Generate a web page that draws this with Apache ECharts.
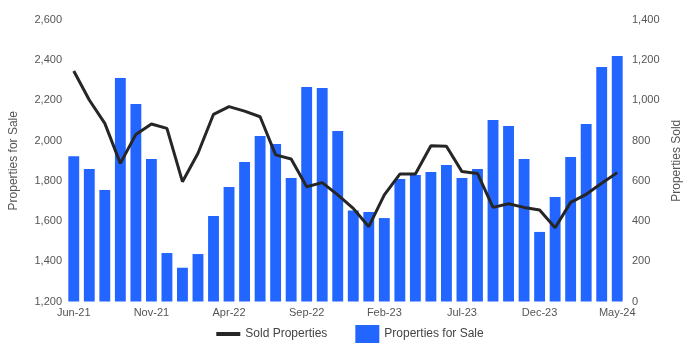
<!DOCTYPE html>
<html>
<head>
<meta charset="utf-8">
<script src="https://cdn.jsdelivr.net/npm/echarts@6/dist/echarts.min.js"></script>
<style>
  html, body { margin: 0; padding: 0; background: #fff; }
  #chart { width: 700px; height: 350px; }
</style>
</head>
<body>
<div id="chart"></div>
<script>
// Monthly listings vs. sales, Jun-21 to May-24
const months = [
  'Jun-21','Jul-21','Aug-21','Sep-21','Oct-21','Nov-21','Dec-21','Jan-22','Feb-22','Mar-22','Apr-22','May-22',
  'Jun-22','Jul-22','Aug-22','Sep-22','Oct-22','Nov-22','Dec-22','Jan-23','Feb-23','Mar-23','Apr-23','May-23',
  'Jun-23','Jul-23','Aug-23','Sep-23','Oct-23','Nov-23','Dec-23','Jan-24','Feb-24','Mar-24','Apr-24','May-24'
];

const propertiesForSale = [
  1922, 1859, 1754, 2311, 2182, 1909, 1441, 1368, 1436, 1625, 1769, 1894,
  2023, 1983, 1814, 2267, 2262, 2048, 1652, 1645, 1615, 1809, 1829, 1844,
  1879, 1814, 1859, 2103, 2073, 1909, 1546, 1720, 1919, 2083, 2366, 2421
];

const soldProperties = [
  1146, 1002, 886, 687, 831, 883, 861, 596, 737, 931, 969, 947,
  919, 729, 709, 571, 591, 530, 463, 372, 530, 634, 634, 775,
  772, 646, 637, 468, 486, 468, 455, 367, 493, 533, 588, 641
];

const labelStyle = { color: '#555', fontSize: 11, fontFamily: 'Liberation Sans, Arial, sans-serif' };
const nameStyle = { color: '#555', fontSize: 12, fontFamily: 'Liberation Sans, Arial, sans-serif' };

const chart = echarts.init(document.getElementById('chart'), null, { renderer: 'canvas' });
chart.setOption({
  animation: false,
  grid: { left: 58, right: 75, top: 20, bottom: 48.5 },
  legend: {
    bottom: 2,
    left: 'center',
    itemGap: 28,
    itemWidth: 24,
    itemHeight: 18,
    textStyle: { color: '#444', fontSize: 12, fontFamily: 'Liberation Sans, Arial, sans-serif' },
    data: [
      { name: 'Sold Properties', icon: 'path://M0,0H24V4H0Z' },
      { name: 'Properties for Sale', icon: 'rect' }
    ]
  },
  xAxis: {
    type: 'category',
    data: months,
    boundaryGap: true,
    axisLine: { show: false },
    axisTick: { show: false },
    axisLabel: Object.assign({ interval: 4, margin: 6 }, labelStyle)
  },
  yAxis: [
    {
      type: 'value',
      min: 1200,
      max: 2600,
      interval: 200,
      name: 'Properties for Sale',
      nameLocation: 'middle',
      nameGap: 46,
      nameTextStyle: nameStyle,
      splitLine: { show: false },
      axisLine: { show: false },
      axisTick: { show: false },
      axisLabel: Object.assign({ margin: 4, formatter: v => v.toLocaleString('en-US') }, labelStyle)
    },
    {
      type: 'value',
      min: 0,
      max: 1400,
      interval: 200,
      name: 'Properties Sold',
      nameLocation: 'middle',
      nameGap: 44,
      nameTextStyle: nameStyle,
      splitLine: { show: false },
      axisLine: { show: false },
      axisTick: { show: false },
      axisLabel: Object.assign({ margin: 7, formatter: v => v.toLocaleString('en-US') }, labelStyle)
    }
  ],
  series: [
    {
      name: 'Properties for Sale',
      type: 'bar',
      yAxisIndex: 0,
      data: propertiesForSale,
      barCategoryGap: '30%',
      itemStyle: { color: '#2266ff' }
    },
    {
      name: 'Sold Properties',
      type: 'line',
      yAxisIndex: 1,
      data: soldProperties,
      symbol: 'none',
      lineStyle: { color: '#262626', width: 3 },
      itemStyle: { color: '#262626' },
      z: 5
    }
  ]
});
</script>
</body>
</html>
